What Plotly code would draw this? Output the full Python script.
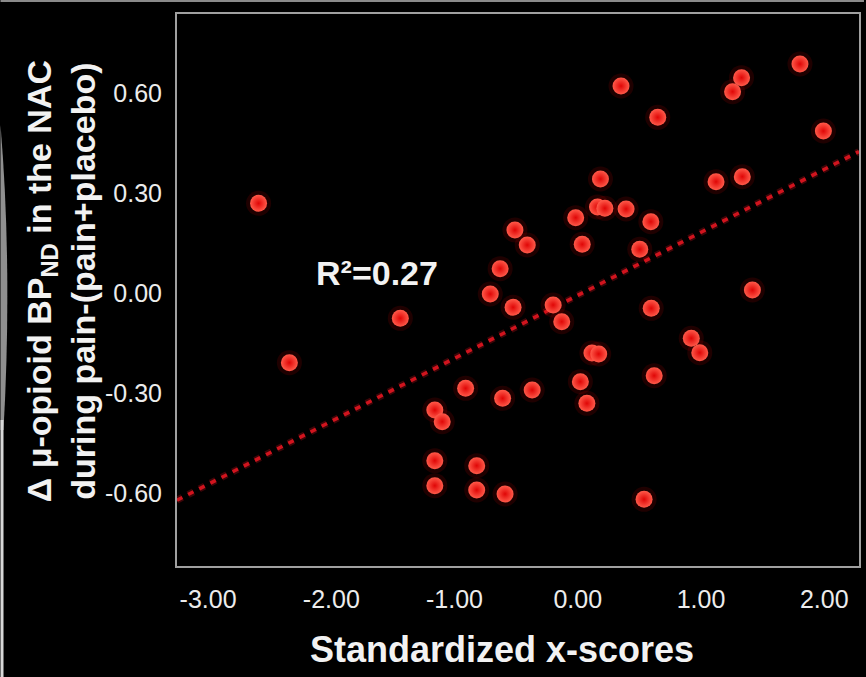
import plotly.graph_objects as go

# ---- data ----
x_scores = [-2.59, -2.34, -1.44, -1.16, -1.10, -1.16, -1.16, -0.91, -0.82, -0.82,
            -0.71, -0.63, -0.61, -0.59, -0.525, -0.51, -0.41, -0.37, -0.20, -0.13,
            -0.017, 0.021, 0.036, 0.074, 0.115, 0.17, 0.16, 0.22, 0.184, 0.351,
            0.392, 0.503, 0.538, 0.593, 0.596, 0.62, 0.649, 0.921, 0.990, 1.122,
            1.256, 1.329, 1.335, 1.417, 1.803, 1.993]
delta_bp = [0.269, -0.209, -0.076, -0.351, -0.386, -0.503, -0.578, -0.286, -0.518, -0.591,
            -0.003, 0.073, -0.316, -0.603, -0.043, 0.189, 0.144, -0.291, -0.036, -0.086,
            0.226, -0.266, 0.146, -0.331, -0.180, -0.183, 0.258, 0.254, 0.342, 0.621,
            0.252, 0.131, -0.619, 0.214, -0.046, -0.248, 0.527, -0.136, -0.179, 0.334,
            0.604, 0.646, 0.349, 0.009, 0.687, 0.486]

fit_slope = 0.189
fit_intercept = -0.007
r_squared_text = "R²=0.27"

x_ticks = [-3, -2, -1, 0, 1, 2]
y_ticks = [-0.6, -0.3, 0.0, 0.3, 0.6]
x_tick_labels = [f"{v:.2f}" for v in x_ticks]
y_tick_labels = [f"{v:.2f}" for v in y_ticks]
x_range = [-3.252, 2.282]
y_range = [-0.819, 0.837]

x_title = "Standardized x-scores"
y_title = "Δ μ-opioid BP<sub>ND</sub> in the NAC<br>during pain-(pain+placebo)"

FONT = "Liberation Sans, Arial, Helvetica, sans-serif"

fig = go.Figure()

# regression line (dotted)
line_x = [x_range[0], x_range[1]]
line_y = [fit_slope * v + fit_intercept for v in line_x]
fig.add_trace(go.Scatter(x=line_x, y=line_y, mode="lines",
                         line=dict(color="rgba(200,16,28,0.3)", width=7, dash="6px,6.5px"),
                         hoverinfo="skip", showlegend=False))
fig.add_trace(go.Scatter(x=line_x, y=line_y, mode="lines",
                         line=dict(color="#d0141e", width=3.5, dash="6px,6.5px"),
                         hoverinfo="skip", showlegend=False))

# glow under points
fig.add_trace(go.Scatter(x=x_scores, y=delta_bp, mode="markers",
                         marker=dict(size=25, color="rgba(255,0,0,0.12)", line=dict(width=0)),
                         hoverinfo="skip", showlegend=False))
# points
fig.add_trace(go.Scatter(x=x_scores, y=delta_bp, mode="markers",
                         marker=dict(size=17, color="#ff5a4a",
                                     gradient=dict(type="radial", color="#e00606"),
                                     line=dict(width=0)),
                         showlegend=False))

fig.add_annotation(x=-1.63, y=0.06, xref="x", yref="y", text=r_squared_text,
                   showarrow=False, xanchor="center", yanchor="middle",
                   font=dict(family=FONT, size=34, color="#f2f2f2", weight="bold"))

# axis titles
fig.add_annotation(x=0.476, y=-0.152, xref="paper", yref="paper", text=x_title,
                   showarrow=False, xanchor="center", yanchor="middle",
                   font=dict(family=FONT, size=36, color="#f2f2f2", weight="bold"))
fig.add_annotation(x=-0.17, y=0.516, xref="paper", yref="paper", text=y_title,
                   showarrow=False, xanchor="center", yanchor="middle", textangle=-90,
                   font=dict(family=FONT, size=34, color="#f2f2f2", weight="bold"))

# frame remnants at the image edges
fig.add_shape(type="line", xref="paper", yref="paper",
              x0=-177/684, x1=689/684, y0=(566-1)/552, y1=(566-1)/552,
              line=dict(color="#8a8a8a", width=2), layer="above")
fig.add_shape(type="path", xref="paper", yref="paper",
              path=("M {a},{b} Q {c},{d} {e},{f} L {g},{f} L {g},{b} Z").format(
                  a=-177/684, b=(566-125)/552, c=-165/684, d=(566-270)/552,
                  e=-174/684, f=(566-430)/552, g=-177/684),
              fillcolor="#8f8f8f", line=dict(width=0), layer="above")
fig.add_shape(type="line", xref="paper", yref="paper",
              x0=-175.5/684, x1=-175.5/684, y0=(566-420)/552, y1=(566-677)/552,
              line=dict(color="#d8d8d8", width=3), layer="above")

axis_common = dict(showline=True, linecolor="#a0a0a0", linewidth=2, mirror=True,
                   showgrid=False, zeroline=False, ticks="outside",
                   tickcolor="rgba(0,0,0,0)",
                   tickfont=dict(family=FONT, size=25, color="#ececec"))

fig.update_xaxes(range=x_range, tickvals=x_ticks, ticktext=x_tick_labels,
                 ticklen=10, **axis_common)
fig.update_yaxes(range=y_range, tickvals=y_ticks, ticktext=y_tick_labels,
                 ticklen=8, **axis_common)

fig.update_layout(width=866, height=677, autosize=False,
                  margin=dict(l=177, r=5, t=14, b=111),
                  paper_bgcolor="#000000", plot_bgcolor="#000000",
                  showlegend=False)

fig.write_html("out.html", config={"displayModeBar": False},
               post_script="document.body.style.margin='0';"
                           "document.body.style.background='#000';")
